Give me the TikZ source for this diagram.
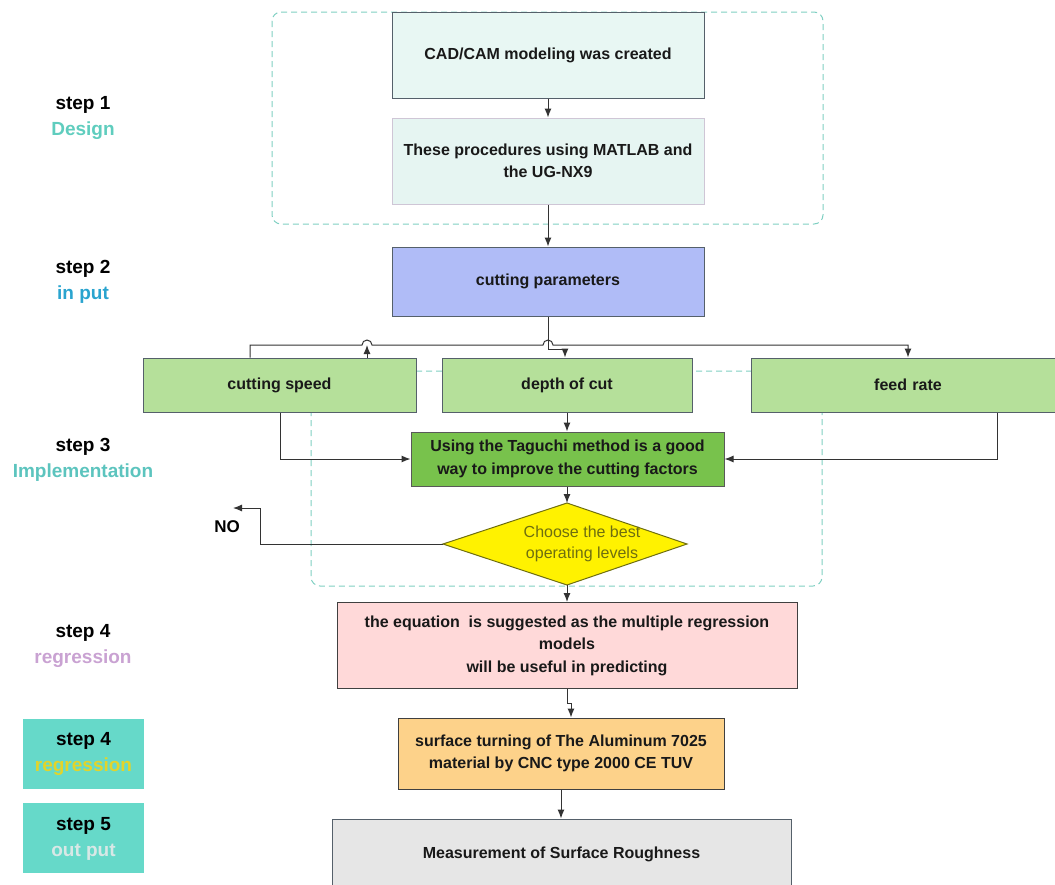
\documentclass[tikz,border=0pt]{standalone}
\usepackage{fontspec}
\setmainfont{Liberation Sans}
\usetikzlibrary{arrows.meta}
\definecolor{dashc}{HTML}{7FCFC2}
\definecolor{cadfill}{HTML}{E8F7F3}
\definecolor{procfill}{HTML}{E6F5F2}
\definecolor{procdraw}{HTML}{CFC6D6}
\definecolor{cpfill}{HTML}{B0BCF7}
\definecolor{lgreen}{HTML}{B5E09A}
\definecolor{mgreen}{HTML}{78C24C}
\definecolor{pinkf}{HTML}{FFD9D9}
\definecolor{orangef}{HTML}{FDD28A}
\definecolor{grayf}{HTML}{E6E6E6}
\definecolor{tealf}{HTML}{66D9C9}
\definecolor{designc}{HTML}{5FCDBE}
\definecolor{inputc}{HTML}{2AA4CF}
\definecolor{implc}{HTML}{5CC4BE}
\definecolor{regc}{HTML}{C9A2D2}
\definecolor{regy}{HTML}{E2D42A}
\definecolor{outc}{HTML}{D8E8E6}
\definecolor{olive}{HTML}{6E6E10}
\definecolor{boxdraw}{HTML}{55606A}
\tikzset{
  box/.style={draw=boxdraw, line width=1pt, rectangle, align=center, inner sep=2pt,
    font=\fontsize{16}{22.5}\selectfont\bfseries, text=black!90},
  arr/.style={-{Latex[length=9pt,width=7pt]}, line width=1pt, draw=black!80},
  dbox/.style={draw=dashc, line width=1pt, dash pattern=on 6pt off 4pt, rounded corners=9pt},
  steplbl/.style={align=center, font=\fontsize{19}{26}\selectfont\bfseries}
}
\begin{document}
\begin{tikzpicture}[x=1pt,y=-1pt]
\useasboundingbox (0,0) rectangle (1055,884);
% dashed frames
\draw[dbox] (272,12) rectangle (823,224);
\draw[dbox] (311,371) rectangle (822,586);
% step 1 nodes
\node[box, fill=cadfill, minimum width=312pt, minimum height=86pt] (cad) at (548,55) {CAD/CAM modeling was created};
\node[box, fill=procfill, draw=procdraw, minimum width=312pt, minimum height=86pt] (proc) at (548,161) {These procedures using MATLAB and\\the UG-NX9};
\node[box, fill=cpfill, minimum width=312pt, minimum height=69pt] (cp) at (548,281.5) {cutting parameters};
% parameter boxes
\node[box, fill=lgreen, minimum width=273pt, minimum height=54pt] (cs) at (279.5,385) {cutting speed};
\node[box, fill=lgreen, minimum width=250pt, minimum height=54pt] (dc) at (567,385) {depth of cut};
\node[box, fill=lgreen, minimum width=301pt, minimum height=54pt, text width=301pt] (fr) at (903.5,385) {\hspace*{9pt}feed rate};
\node[box, fill=mgreen, draw=black!65, minimum width=313pt, minimum height=54pt] (tag) at (567.5,459) {Using the Taguchi method is a good\\way to improve the cutting factors};
% diamond
\path[draw=olive, fill=yellow, line width=1pt] (443,544) coordinate (dl) -- (567,503) coordinate (dt) -- (687,544) -- (567,585) coordinate (db) -- cycle;
\node[align=center, text=olive, font=\fontsize{16}{21}\selectfont] (dtext) at (582,544) {Choose the best\\operating levels};
\node[font=\fontsize{17}{18}\selectfont\bfseries] (no) at (227,527) {NO};
% lower boxes
\node[box, fill=pinkf, draw=black!75, minimum width=460pt, minimum height=86pt] (eq) at (567,645.5) {the equation\ \ is suggested as the multiple regression\\models\\will be useful in predicting};
\node[box, fill=orangef, draw=black!75, minimum width=326pt, minimum height=71pt] (al) at (561,753.5) {surface turning of The Aluminum 7025\\material by CNC type 2000 CE TUV};
\node[box, fill=grayf, minimum width=459pt, minimum height=80pt] (mr) at (561.5,859) {};
\node[font=\fontsize{16}{18}\selectfont\bfseries, text=black!90] (mrt) at (561.5,854) {Measurement of Surface Roughness};
% left labels
\node[steplbl] (s1) at (83,118) {step 1\\\textcolor{designc}{Design}};
\node[steplbl] (s2) at (83,282) {step 2\\\textcolor{inputc}{in put}};
\node[steplbl] (s3) at (83,459.5) {step 3\\\textcolor{implc}{Implementation}};
\node[steplbl] (s4) at (83,646) {step 4\\\textcolor{regc}{regression}};
\node[fill=tealf, minimum width=121pt, minimum height=70pt] (t4) at (83.5,754) {};
\node[steplbl] (s4b) at (83.5,754) {step 4\\\textcolor{regy}{regression}};
\node[fill=tealf, minimum width=121pt, minimum height=70pt] (t5) at (83.5,838) {};
\node[steplbl] (s5) at (83.5,839) {step 5\\\textcolor{outc}{out put}};
% connectors
\draw[arr] (cad) -- (proc);
\draw[arr] (proc) -- (cp);
\coordinate (xa) at (250,0);
\coordinate (xb) at (367,0);
\coordinate (xf) at (908,0);
\coordinate (xd) at (565,0);
\coordinate (yh) at (0,345);
\coordinate (yl) at (0,349);
\draw[arr] (cs.north -| xa) -- (xa |- yh) -- (362,345) arc[start angle=180,end angle=0,radius=5pt] -- (543,345) arc[start angle=180,end angle=0,radius=5pt] -- (xf |- yh) -- (fr.north -| xf);
\draw[arr] (cs.north -| xb) -- (367,345);
\draw[arr] (cp.south) -- (cp.south |- yl) -- (xd |- yl) -- (dc.north -| xd);
\coordinate (xcs) at (280,0);
\coordinate (xfr) at (997,0);
\draw[arr] (cs.south -| xcs) |- (tag.west);
\draw[arr] (fr.south -| xfr) |- (tag.east);
\draw[arr] (dc.south) -- (tag.north -| dc.south);
\draw[arr] (tag.south -| dt) -- (dt);
\coordinate (nox) at (260,0);
\coordinate (noy) at (0,508);
\coordinate (notip) at (233,508);
\draw[arr] (dl) -- (nox |- dl) -- (nox |- noy) -- (notip);
\draw[arr] (db) -- (eq.north -| db);
\coordinate (xj) at (571,0);
\coordinate (yj) at (0,703);
\draw[arr] (eq.south -| db) -- (db |- yj) -- (xj |- yj) -- (al.north -| xj);
\draw[arr] (al.south) -- (mr.north -| al.south);
\end{tikzpicture}
\end{document}
